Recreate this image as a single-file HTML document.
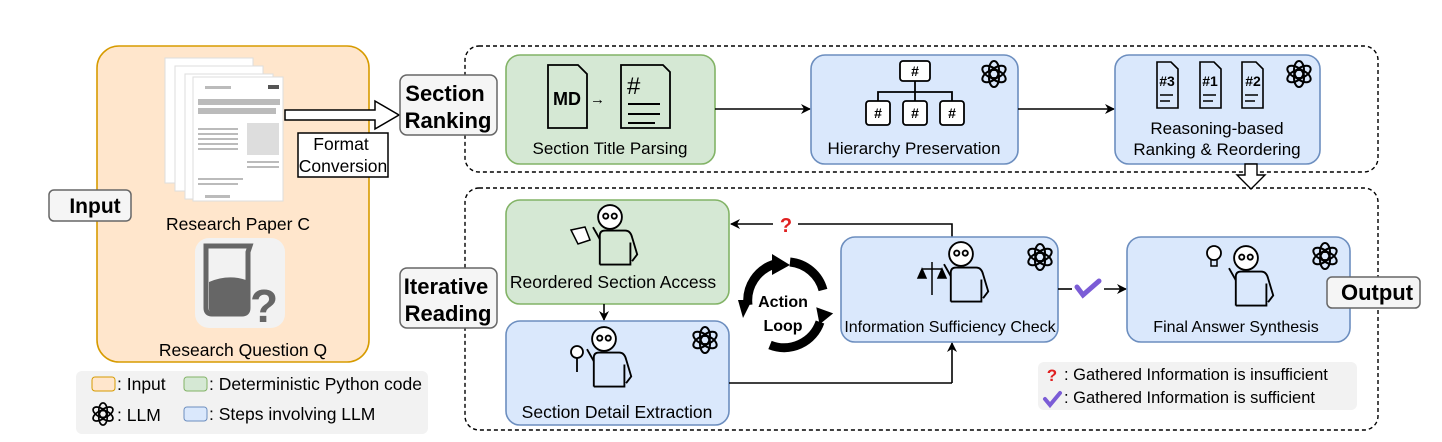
<!DOCTYPE html>
<html><head><meta charset="utf-8"><style>
html,body{margin:0;padding:0;background:#fff}
svg{display:block;font-family:"Liberation Sans",Arial,sans-serif}
</style></head><body>
<svg width="1442" height="442" viewBox="0 0 1442 442" xmlns="http://www.w3.org/2000/svg">
<defs>
<g id="gpt">
 <g fill="none" stroke="#000" stroke-width="2">
  <ellipse cx="0" cy="-4" rx="5" ry="9" transform="rotate(0)"/>
  <ellipse cx="0" cy="-4" rx="5" ry="9" transform="rotate(60)"/>
  <ellipse cx="0" cy="-4" rx="5" ry="9" transform="rotate(120)"/>
  <ellipse cx="0" cy="-4" rx="5" ry="9" transform="rotate(180)"/>
  <ellipse cx="0" cy="-4" rx="5" ry="9" transform="rotate(240)"/>
  <ellipse cx="0" cy="-4" rx="5" ry="9" transform="rotate(300)"/>
 </g>
</g>
<g id="person" fill="none" stroke="#000" stroke-width="2.2">
 <circle cx="0" cy="0" r="14" fill="#fff"/>
 <circle cx="-5" cy="-1" r="3"/><circle cx="5" cy="-1" r="3"/>
 <path d="M-12 56 V22 Q-12 16 -6 16 H18 Q24 16 26 24 L32 44 L26 52 M24 30 V56 H-12"/>
 <path d="M-12 26 L-20 12"/>
</g>
<marker id="ar" markerWidth="10" markerHeight="10" refX="9" refY="5" orient="auto" markerUnits="userSpaceOnUse"><path d="M0 0 L10 5 L0 10 L3 5 Z" fill="#000"/></marker>
</defs>

<rect x="97" y="46" width="272" height="316" rx="22" fill="#ffe6cc" stroke="#d79b00" stroke-width="1.6"/>
<g fill="#fff" stroke="#ddd">
 <rect x="165" y="58" width="88" height="125"/>
 <rect x="175" y="66" width="88" height="125"/>
 <rect x="185" y="74" width="88" height="125"/>
 <rect x="193" y="77" width="90" height="124"/>
</g>
<g fill="#bbb">
 <rect x="198" y="99" width="82" height="6"/><rect x="198" y="108" width="78" height="6"/>
 <rect x="198" y="128" width="40" height="2"/><rect x="198" y="133" width="40" height="2"/><rect x="198" y="138" width="40" height="2"/><rect x="198" y="143" width="40" height="2"/><rect x="198" y="148" width="40" height="2"/>
 <rect x="247" y="123" width="32" height="32" fill="#ddd"/>
 <rect x="247" y="161" width="32" height="2"/><rect x="247" y="166" width="32" height="2"/>
 <rect x="198" y="178" width="45" height="2"/><rect x="198" y="183" width="40" height="2"/>
 <rect x="205" y="195" width="25" height="3"/>
 <rect x="205" y="86" width="26" height="3"/><rect x="268" y="85" width="11" height="4" fill="#555"/>
</g>
<text x="238" y="230" font-size="17.5" text-anchor="middle">Research Paper C</text>
<rect x="195" y="238" width="90" height="90" rx="14" fill="#f2f2f2"/>
<path d="M206 246 H250 L248 252 V308 Q248 314 242 314 H212 Q206 314 206 308 V252 Z" fill="none" stroke="#666" stroke-width="5"/>
<path d="M209 282 Q228 274 246 280 V309 Q246 312 242 312 H212 Q209 312 209 309 Z" fill="#666"/>
<text x="264" y="322" font-size="46" font-weight="bold" fill="#666" text-anchor="middle">?</text>
<text x="243" y="356" font-size="17.5" text-anchor="middle">Research Question Q</text>

<rect x="49" y="190" width="82" height="31" rx="5" fill="#f5f5f5" stroke="#666" stroke-width="1.5"/>
<text x="95" y="213" font-size="21" font-weight="bold" text-anchor="middle">Input</text>

<rect x="76" y="371" width="352" height="63" rx="6" fill="#f2f2f2"/>
<rect x="92" y="377" width="23" height="14" rx="3" fill="#ffe6cc" stroke="#d79b00"/>
<text x="117" y="390" font-size="17.5">: Input</text>
<rect x="184" y="377" width="23" height="14" rx="3" fill="#d5e8d4" stroke="#82b366"/>
<text x="209" y="390" font-size="17.5">: Deterministic Python code</text>
<use href="#gpt" transform="translate(103,414) scale(0.85)"/>
<text x="117" y="421" font-size="17.5">: LLM</text>
<rect x="184" y="407" width="23" height="14" rx="3" fill="#dae8fc" stroke="#6c8ebf"/>
<text x="209" y="420" font-size="17.5">: Steps involving LLM</text>

<path d="M285 110 H375 V101 L399 115 L375 129 V120 H285 Z" fill="#fff" stroke="#000" stroke-width="1.5"/>
<rect x="298" y="133" width="90" height="44" fill="#fff" stroke="#000" stroke-width="1.5"/>
<text x="341" y="150" font-size="17.5" text-anchor="middle">Format</text>
<text x="343" y="172" font-size="17.5" text-anchor="middle">Conversion</text>

<rect x="465" y="46" width="913" height="126" rx="14" fill="none" stroke="#000" stroke-width="1.4" stroke-dasharray="4 3"/>
<rect x="465" y="188" width="913" height="242" rx="14" fill="none" stroke="#000" stroke-width="1.4" stroke-dasharray="4 3"/>

<rect x="400" y="75" width="97" height="60" rx="7" fill="#f5f5f5" stroke="#666" stroke-width="1.5"/>
<text x="445" y="101" font-size="22" font-weight="bold" text-anchor="middle">Section</text>
<text x="448" y="128" font-size="22" font-weight="bold" text-anchor="middle">Ranking</text>
<rect x="400" y="268" width="97" height="60" rx="7" fill="#f5f5f5" stroke="#666" stroke-width="1.5"/>
<text x="446" y="294" font-size="22" font-weight="bold" text-anchor="middle">Iterative</text>
<text x="448" y="321" font-size="22" font-weight="bold" text-anchor="middle">Reading</text>

<rect x="506" y="55" width="209" height="109" rx="14" fill="#d5e8d4" stroke="#82b366" stroke-width="1.6"/>
<path d="M548 65 H578 L587 74 V128 H548 Z" fill="none" stroke="#000" stroke-width="1.8"/>
<text x="567" y="105" font-size="18" font-weight="bold" text-anchor="middle">MD</text>
<text x="590" y="104" font-size="15">→</text>
<path d="M621 65 H663 L670 72 V128 H621 Z" fill="none" stroke="#000" stroke-width="1.8"/>
<text x="627" y="94" font-size="24">#</text>
<path d="M628 104 H660 M628 114 H660 M628 123 H655" stroke="#000" stroke-width="2"/>
<text x="610" y="154" font-size="17" text-anchor="middle">Section Title Parsing</text>

<line x1="715" y1="109" x2="810" y2="109" stroke="#000" stroke-width="1.6" marker-end="url(#ar)"/>

<rect x="811" y="55" width="207" height="109" rx="14" fill="#dae8fc" stroke="#6c8ebf" stroke-width="1.6"/>
<g stroke="#000" stroke-width="1.8" fill="#fff">
 <rect x="900" y="61" width="30" height="20" rx="3"/>
 <path d="M915 81 V92 M878 101 V92 H952 V101 M915 92 V101" fill="none"/>
 <rect x="866" y="101" width="24" height="24" rx="3"/><rect x="903" y="101" width="24" height="24" rx="3"/><rect x="940" y="101" width="24" height="24" rx="3"/>
</g>
<g font-size="14" font-weight="bold" text-anchor="middle"><text x="915" y="76">#</text><text x="878" y="118">#</text><text x="915" y="118">#</text><text x="952" y="118">#</text></g>
<use href="#gpt" transform="translate(994,74)"/>
<text x="914" y="154" font-size="17" text-anchor="middle">Hierarchy Preservation</text>

<line x1="1018" y1="109" x2="1114" y2="109" stroke="#000" stroke-width="1.6" marker-end="url(#ar)"/>

<rect x="1115" y="55" width="205" height="109" rx="14" fill="#dae8fc" stroke="#6c8ebf" stroke-width="1.6"/>
<g fill="none" stroke="#000" stroke-width="1.6">
 <path d="M1157 62 H1171 L1178 69 V108 H1157 Z"/>
 <path d="M1200 62 H1214 L1221 69 V108 H1200 Z"/>
 <path d="M1242 62 H1256 L1263 69 V108 H1242 Z"/>
 <path d="M1160 95 H1173 M1160 101 H1170 M1203 95 H1216 M1203 101 H1213 M1245 95 H1258 M1245 101 H1255"/>
</g>
<g font-size="14" font-weight="bold" text-anchor="middle"><text x="1167" y="86">#3</text><text x="1210" y="86">#1</text><text x="1253" y="86">#2</text></g>
<use href="#gpt" transform="translate(1299,74)"/>
<text x="1217" y="134" font-size="17" text-anchor="middle">Reasoning-based</text>
<text x="1217" y="155" font-size="17" text-anchor="middle">Ranking &amp; Reordering</text>

<path d="M1245 164 H1257 V175 H1265 L1251 189 L1237 175 H1245 Z" fill="#fff" stroke="#000" stroke-width="1.4"/>

<rect x="506" y="200" width="223" height="104" rx="14" fill="#d5e8d4" stroke="#82b366" stroke-width="1.6"/>
<use href="#person" transform="translate(610,217) scale(0.85)"/>
<path d="M571 230 L585 227 L590 240 L578 244 Z" fill="#fff" stroke="#000" stroke-width="1.5"/>
<text x="613" y="288" font-size="17.5" text-anchor="middle">Reordered Section Access</text>

<line x1="604" y1="304" x2="604" y2="320" stroke="#000" stroke-width="1.6" marker-end="url(#ar)"/>

<rect x="506" y="321" width="223" height="104" rx="14" fill="#dae8fc" stroke="#6c8ebf" stroke-width="1.6"/>
<use href="#person" transform="translate(604,339) scale(0.85)"/>
<circle cx="577" cy="352" r="6" fill="#fff" stroke="#000" stroke-width="1.8"/>
<path d="M577 358 V372" stroke="#000" stroke-width="1.8"/>
<use href="#gpt" transform="translate(705,340)"/>
<text x="617" y="418" font-size="17.5" text-anchor="middle">Section Detail Extraction</text>

<g fill="none" stroke="#000" stroke-width="9">
 <path d="M748 305 A38 38 0 0 1 775 264"/>
 <path d="M790 262 A38 38 0 0 1 823 290"/>
 <path d="M820 322 A38 38 0 0 1 770 345"/>
</g>
<g fill="#000">
 <path d="M772 254 L790 265 L772 275 Z"/>
 <path d="M814 310 L832 310 L823 325 Z" transform="rotate(20 823 315)"/>
 <path d="M752 300 L743 318 L738 300 Z"/>
</g>
<text x="783" y="307" font-size="16" font-weight="bold" text-anchor="middle">Action</text>
<text x="783" y="331" font-size="16" font-weight="bold" text-anchor="middle">Loop</text>

<line x1="729" y1="383" x2="952" y2="383" stroke="#000" stroke-width="1.6"/>
<line x1="952" y1="383" x2="952" y2="343" stroke="#000" stroke-width="1.6" marker-end="url(#ar)"/>
<path d="M952 237 V224 H798" fill="none" stroke="#000" stroke-width="1.6"/>
<line x1="773" y1="224" x2="731" y2="224" stroke="#000" stroke-width="1.6" marker-end="url(#ar)"/>
<text x="786" y="232" font-size="20" font-weight="bold" fill="#e02020" text-anchor="middle">?</text>

<rect x="841" y="237" width="217" height="105" rx="14" fill="#dae8fc" stroke="#6c8ebf" stroke-width="1.6"/>
<use href="#person" transform="translate(961,254) scale(0.85)"/>
<path d="M922 269 H942 M932 262 V295 M922 269 L918 278 H926 Z M942 269 L938 278 H946 Z" fill="#000" stroke="#000" stroke-width="1.5"/>
<use href="#gpt" transform="translate(1040,257)"/>
<text x="950" y="332" font-size="16" text-anchor="middle">Information Sufficiency Check</text>

<line x1="1058" y1="289" x2="1072" y2="289" stroke="#000" stroke-width="1.6"/>
<path d="M1077 287 L1083 295 L1099 281" fill="none" stroke="#7b5cd6" stroke-width="5" stroke-linecap="round"/>
<line x1="1104" y1="289" x2="1126" y2="289" stroke="#000" stroke-width="1.6" marker-end="url(#ar)"/>

<rect x="1127" y="237" width="223" height="105" rx="14" fill="#dae8fc" stroke="#6c8ebf" stroke-width="1.6"/>
<use href="#person" transform="translate(1246,258) scale(0.85)"/>
<circle cx="1214" cy="253" r="7" fill="#fff" stroke="#000" stroke-width="1.8"/>
<path d="M1211 260 V266 H1217 V260" fill="none" stroke="#000" stroke-width="1.5"/>
<use href="#gpt" transform="translate(1325,256)"/>
<text x="1236" y="332" font-size="16" text-anchor="middle">Final Answer Synthesis</text>

<rect x="1327" y="277" width="93" height="31" rx="5" fill="#f5f5f5" stroke="#666" stroke-width="1.5"/>
<text x="1377" y="300" font-size="22" font-weight="bold" text-anchor="middle">Output</text>

<rect x="1038" y="362" width="319" height="48" rx="6" fill="#f2f2f2"/>
<text x="1052" y="381" font-size="17" font-weight="bold" fill="#e02020" text-anchor="middle">?</text>
<text x="1064" y="380" font-size="16.5">: Gathered Information is insufficient</text>
<path d="M1045 399 L1050 405 L1060 393" fill="none" stroke="#7b5cd6" stroke-width="4" stroke-linecap="round"/>
<text x="1064" y="403" font-size="16.5">: Gathered Information is sufficient</text>
</svg>
</body></html>
